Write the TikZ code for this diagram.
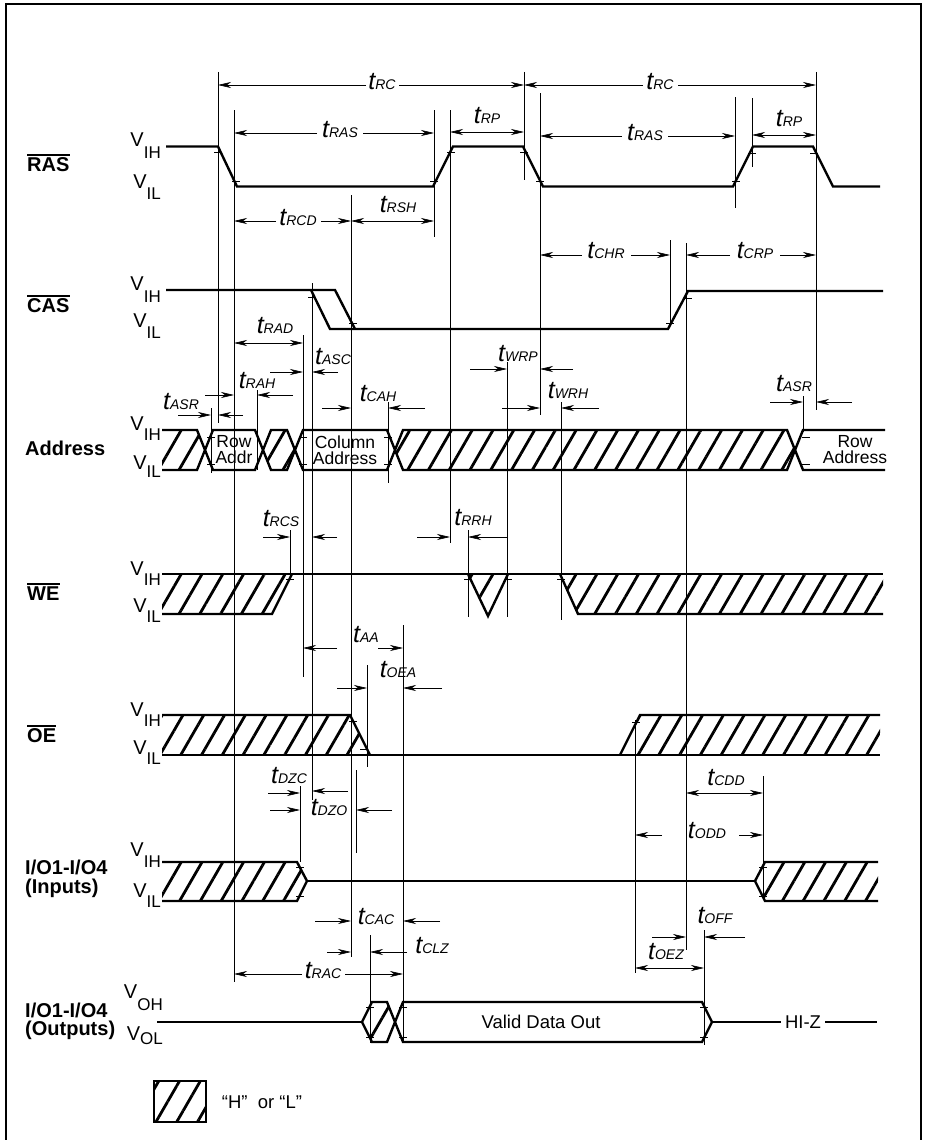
\documentclass[tikz,border=0pt]{standalone}
\usepackage{fontspec}
\setmainfont{Liberation Sans}
\usetikzlibrary{arrows.meta,patterns.meta}
\newcommand{\tlab}[1]{{\fontsize{25}{25}\selectfont\itshape t}{\fontsize{14}{14}\selectfont\itshape #1}}
\newcommand{\vlv}[2]{{\fontsize{20}{20}\selectfont V}\raisebox{-#1pt}{\fontsize{17}{17}\selectfont #2}}
\newcommand{\edgetick}[2]{\draw[refl] (#1-4,#2) -- (#1+4,#2);}
\begin{document}
\begin{tikzpicture}[x=1pt,y=-1pt,
  >={Stealth[length=13pt,width=6pt,inset=4pt]},
  sig/.style={line width=2.4pt},
  refl/.style={line width=0.6pt},
  dimar/.style={line width=0.6pt,->},
  dimbb/.style={line width=0.6pt,<->},
  hatch/.style={pattern={Lines[angle=60,distance=18pt,line width=2.8pt]}},
  tl/.style={inner sep=0pt},
  sl/.style={font=\fontsize{20}{20}\selectfont\bfseries,anchor=west,inner sep=0pt},
  vl/.style={anchor=base east,inner sep=0pt},
  bt/.style={font=\fontsize{17.5}{16}\selectfont,align=center,inner sep=0pt},
  tx/.style={font=\fontsize{18.5}{18.5}\selectfont,inner sep=0pt},
  ov/.style={line width=1.8pt}]
\useasboundingbox (0,0) rectangle (926,1140);
% frame
\draw[line width=1.2pt] (6,1140) -- (6,4) -- (921,4) -- (921,1140);

% ---------- reference lines ----------
\foreach \x/\a/\b in {218/72/423, 234/110/982, 434/110/237, 450/110/543, 524/72/180,
  540/93/415, 735/97/208, 752/98/167, 816/72/410, 351/195/957, 312/283/800,
  670/240/323, 686/243/950, 303/335/677, 211/408/473, 257/390/470, 388/402/483,
  803/396/432, 507/362/617, 561/402/620, 468/530/617, 290/530/574, 367/665/767,
  403/625/1043, 356/770/853, 300/786/862, 635/720/973, 763/776/900, 370/935/1043,
  704/930/1045}
  {\draw[refl] (\x,\a) -- (\x,\b);}

% ---------- left labels ----------
\node[sl] (nRAS) at (27,165) {RAS};
\draw[ov] ([yshift=3pt]nRAS.north west) -- ([yshift=3pt]nRAS.north east);
\node[sl] (nCAS) at (27,306) {CAS};
\draw[ov] ([yshift=3pt]nCAS.north west) -- ([yshift=3pt]nCAS.north east);
\node[sl] (nAddr) at (25,448) {Address};
\node[sl] (nWE) at (27,594) {WE};
\draw[ov] ([yshift=3pt]nWE.north west) -- ([yshift=3pt]nWE.north east);
\node[sl] (nOE) at (27,736) {OE};
\draw[ov] ([yshift=3pt]nOE.north west) -- ([yshift=3pt]nOE.north east);
\node[sl] (nIOa) at (25,867) {I/O1-I/O4};
\node[sl] (nIOb) at (25,888) {(Inputs)};
\node[sl] (nIOc) at (25,1010) {I/O1-I/O4};
\node[sl] (nIOd) at (25,1030) {(Outputs)};

% ---------- level labels ----------
\node[vl] (v1h) at (161,146) {\vlv{12}{IH}};
\node[vl] (v1l) at (161,188) {\vlv{11}{IL}};
\node[vl] (v2h) at (161,290) {\vlv{12}{IH}};
\node[vl] (v2l) at (161,327) {\vlv{11}{IL}};
\node[vl] (v3h) at (161,430) {\vlv{10}{IH}};
\node[vl] (v3l) at (161,469) {\vlv{8}{IL}};
\node[vl] (v4h) at (161,575) {\vlv{10}{IH}};
\node[vl] (v4l) at (161,612) {\vlv{10}{IL}};
\node[vl] (v5h) at (161,716) {\vlv{10}{IH}};
\node[vl] (v5l) at (161,754) {\vlv{10}{IL}};
\node[vl] (v6h) at (161,856) {\vlv{11}{IH}};
\node[vl] (v6l) at (161,897) {\vlv{10}{IL}};
\node[vl] (v7h) at (163,998) {\vlv{12}{OH}};
\node[vl] (v7l) at (163,1040) {\vlv{4}{OL}};

% ---------- RAS ----------
\draw[sig] (166,146.5) -- (218,146.5) -- (237,186.5) -- (433,186.5) -- (453,146.5) -- (523,146.5)
  -- (543,186.5) -- (733,186.5) -- (753,146.5) -- (813,146.5) -- (833,186.5) -- (880,186.5);
% ---------- CAS ----------
\draw[sig] (166,290) -- (335,290) -- (355,329);
\draw[sig] (311,290) -- (330,329) -- (668,329) -- (688,291) -- (883,291);

% ---------- Address ----------
\draw[sig,hatch] (162,430) -- (197,430) -- (205,450) -- (197,470) -- (162,470);
\draw[sig] (205,450) -- (213,430) -- (255,430) -- (263,450) -- (255,470) -- (213,470) -- cycle;
\draw[sig,hatch] (263,450) -- (271,430) -- (287,430) -- (295,450) -- (287,470) -- (271,470) -- cycle;
\draw[sig] (295,450) -- (303,430) -- (387,430) -- (395,450) -- (387,470) -- (303,470) -- cycle;
\draw[sig,hatch] (395,450) -- (403,430) -- (787,430) -- (795,450) -- (787,470) -- (403,470) -- cycle;
\draw[sig] (885,430) -- (803,430) -- (795,450) -- (803,470) -- (885,470);
\node[bt] (tRowA) at (234,450) {Row\\Addr};
\node[bt] (tColA) at (345,450) {Column\\Address};
\node[bt] (tRowB) at (855,450) {Row\\Address};

% ---------- WE ----------
\fill[hatch] (162,574) -- (292,574) -- (272,614) -- (162,614) -- cycle;
\draw[sig] (162,614) -- (272,614) -- (292,574);
\fill[hatch] (468,574) -- (488,616) -- (508,574) -- cycle;
\draw[sig] (468,574) -- (488,616) -- (508,574);
\fill[hatch] (560,574) -- (883,574) -- (883,614) -- (578,614) -- cycle;
\draw[sig] (560,574) -- (578,614) -- (883,614);
\draw[sig] (162,574) -- (883,574);

% ---------- OE ----------
\fill[hatch] (162,715) -- (350,715) -- (370,755) -- (162,755) -- cycle;
\draw[sig] (162,715) -- (350,715) -- (370,755);
\fill[hatch] (620,755) -- (640,715) -- (880,715) -- (880,755) -- cycle;
\draw[sig] (620,755) -- (640,715) -- (880,715);
\draw[sig] (162,755) -- (880,755);

% ---------- Inputs ----------
\fill[hatch] (162,862) -- (297,862) -- (307,881) -- (297,901) -- (162,901) -- cycle;
\draw[sig] (162,862) -- (297,862) -- (307,881) -- (297,901) -- (162,901);
\draw[sig] (307,881) -- (755,881);
\fill[hatch] (878,862) -- (765,862) -- (755,881) -- (765,901) -- (878,901) -- cycle;
\draw[sig] (878,862) -- (765,862) -- (755,881) -- (765,901) -- (878,901);

% ---------- Outputs ----------
\draw[sig] (157,1022) -- (362,1022);
\draw[sig,hatch] (362,1022) -- (372,1002) -- (387,1002) -- (395,1022) -- (387,1042) -- (372,1042) -- cycle;
\draw[sig] (395,1022) -- (403,1002) -- (702,1002) -- (712,1022) -- (702,1042) -- (403,1042) -- cycle;
\node[tx] (vdo) at (541,1022) {Valid Data Out};
\node[tx] (hiz) at (803,1022) {HI-Z};
\draw[sig] (712,1022) -- ([xshift=-4pt]hiz.west);
\draw[sig] ([xshift=4pt]hiz.east) -- (877,1022);

% ---------- legend ----------
\draw[line width=2.2pt,hatch] (154,1081) rectangle (206,1122);
\node[tx] (leg) at (262,1102) {“H”\ \ or “L”};

% ---------- edge ticks ----------
\foreach \x/\y in {218/152,236/181,434/181,451/152,524/152,540/181,736/181,752/153,814/153,
  312/297,353/323,670/323,688/298,
  211/437,211/464,303/437,303/464,388/437,388/464,806/437,806/464,
  290/579,468/579,508/579,561/579,
  353/721,364/749,636/722,
  300/867,300/896,763/867,763/896,
  370/1007,370/1037,403/1007,403/1037,704/1007,704/1037}
  {\edgetick{\x}{\y}}

% ---------- timing labels and arrows ----------
% tRC
\node[tl] (lRC1) at (382,82) {\tlab{RC}};
\draw[dimar] (366,85) -- (218,85); \draw[dimar] (399,85) -- (524,85);
\node[tl] (lRC2) at (660,82) {\tlab{RC}};
\draw[dimar] (643,85) -- (524,85); \draw[dimar] (678,85) -- (816,85);
% tRAS
\node[tl] (lRAS1) at (340,130) {\tlab{RAS}};
\draw[dimar] (317,133) -- (234,133); \draw[dimar] (363,133) -- (434,133);
\node[tl] (lRAS2) at (645,133) {\tlab{RAS}};
\draw[dimar] (622,136) -- (540,136); \draw[dimar] (668,136) -- (735,136);
% tRP
\node[tl] (lRP1) at (487,116) {\tlab{RP}};
\draw[dimbb] (450,132) -- (524,132);
\node[tl] (lRP2) at (789,119) {\tlab{RP}};
\draw[dimbb] (752,135) -- (816,135);
% tRCD, tRSH
\node[tl] (lRCD) at (298,218) {\tlab{RCD}};
\draw[dimar] (276,221) -- (234,221); \draw[dimar] (321,221) -- (351,221);
\node[tl] (lRSH) at (398,205) {\tlab{RSH}};
\draw[dimbb] (351,221) -- (434,221);
% tCHR, tCRP
\node[tl] (lCHR) at (606,251) {\tlab{CHR}};
\draw[dimar] (582,255) -- (540,255); \draw[dimar] (631,255) -- (670,255);
\node[tl] (lCRP) at (755,251) {\tlab{CRP}};
\draw[dimar] (730,255) -- (686,255); \draw[dimar] (780,255) -- (816,255);
% tRAD
\node[tl] (lRAD) at (275,326) {\tlab{RAD}};
\draw[dimbb] (234,343) -- (303,343);
% tASC
\node[tl] (lASC) at (333,357) {\tlab{ASC}};
\draw[dimar] (270,372) -- (303,372); \draw[dimar] (338,372) -- (312,372);
% tRAH
\node[tl] (lRAH) at (257,381) {\tlab{RAH}};
\draw[dimar] (205,395) -- (234,395); \draw[dimar] (293,395) -- (257,395);
% tASR
\node[tl] (lASR1) at (181,402) {\tlab{ASR}};
\draw[dimar] (178,415) -- (211,415); \draw[dimar] (243,415) -- (218,415);
\node[tl] (lASR2) at (794,384) {\tlab{ASR}};
\draw[dimar] (770,402) -- (803,402); \draw[dimar] (852,402) -- (816,402);
% tCAH
\node[tl] (lCAH) at (378,394) {\tlab{CAH}};
\draw[dimar] (322,408) -- (351,408); \draw[dimar] (425,408) -- (388,408);
% tWRP, tWRH
\node[tl] (lWRP) at (518,354) {\tlab{WRP}};
\draw[dimar] (470,369) -- (507,369); \draw[dimar] (573,369) -- (540,369);
\node[tl] (lWRH) at (568,391) {\tlab{WRH}};
\draw[dimar] (502,408) -- (540,408); \draw[dimar] (599,408) -- (561,408);
% tRCS, tRRH
\node[tl] (lRCS) at (281,519) {\tlab{RCS}};
\draw[dimar] (263,537) -- (290,537); \draw[dimar] (337,537) -- (312,537);
\node[tl] (lRRH) at (473,518) {\tlab{RRH}};
\draw[dimar] (417,537) -- (450,537); \draw[dimar] (508,537) -- (468,537);
% tAA, tOEA
\node[tl] (lAA) at (366,635) {\tlab{AA}};
\draw[dimar] (337,648) -- (303,648); \draw[dimar] (378,648) -- (403,648);
\node[tl] (lOEA) at (398,670) {\tlab{OEA}};
\draw[dimar] (337,688) -- (367,688); \draw[dimar] (442,688) -- (403,688);
% tDZC, tDZO
\node[tl] (lDZC) at (289,776) {\tlab{DZC}};
\draw[dimar] (268,793) -- (300,793); \draw[dimar] (348,791) -- (312,791);
\node[tl] (lDZO) at (329,808) {\tlab{DZO}};
\draw[dimar] (270,810) -- (300,810); \draw[dimar] (392,810) -- (356,810);
% tCAC, tCLZ, tRAC
\node[tl] (lCAC) at (376,917) {\tlab{CAC}};
\draw[dimar] (315,921) -- (351,921); \draw[dimar] (440,921) -- (403,921);
\node[tl] (lCLZ) at (432,946) {\tlab{CLZ}};
\draw[dimar] (327,952) -- (351,952); \draw[dimar] (407,952) -- (370,952);
\node[tl] (lRAC) at (323,971) {\tlab{RAC}};
\draw[dimar] (302,974) -- (234,974); \draw[dimar] (345,974) -- (403,974);
% tCDD, tODD
\node[tl] (lCDD) at (726,778) {\tlab{CDD}};
\draw[dimbb] (686,793) -- (763,793);
\node[tl] (lODD) at (707,831) {\tlab{ODD}};
\draw[dimar] (662,835) -- (635,835); \draw[dimar] (739,835) -- (763,835);
% tOEZ, tOFF
\node[tl] (lOEZ) at (666,952) {\tlab{OEZ}};
\draw[dimbb] (635,968) -- (704,968);
\node[tl] (lOFF) at (715,916) {\tlab{OFF}};
\draw[dimar] (652,937) -- (686,937); \draw[dimar] (745,937) -- (704,937);
\end{tikzpicture}
\end{document}
